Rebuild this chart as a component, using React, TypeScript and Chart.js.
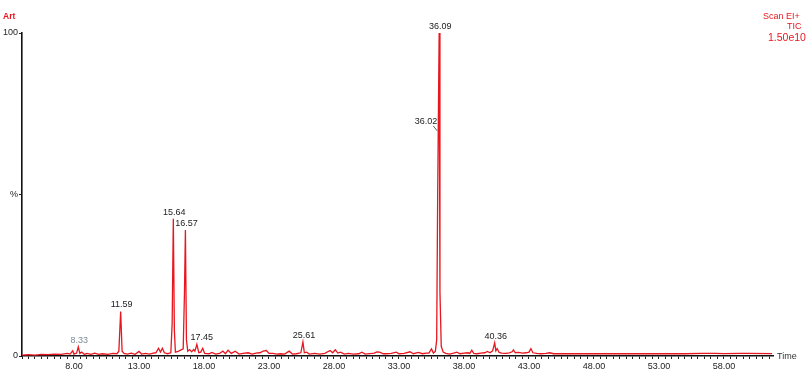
import React, { useEffect, useRef } from "react";
import { Chart, registerables } from "chart.js";

Chart.register(...registerables);

// Retention times (min) and relative intensity (%)
const times: number[] = [
  4.0, 4.5, 5.0, 5.5, 6.0, 6.5, 7.0, 7.5, 7.7, 7.9, 8.0, 8.2, 8.33, 8.45, 8.6, 8.8, 9.0, 9.3, 9.6, 9.9,
  10.2, 10.6, 11.0, 11.3, 11.45, 11.59, 11.7, 11.85, 12.1, 12.4, 12.7, 13.0, 13.2, 13.5, 13.8, 14.1, 14.3,
  14.5, 14.65, 14.8, 14.95, 15.2, 15.45, 15.55, 15.64, 15.72, 15.8, 16.0, 16.2, 16.4, 16.5, 16.57, 16.65,
  16.75, 16.9, 17.05, 17.2, 17.3, 17.45, 17.6, 17.75, 17.9, 18.05, 18.4, 18.6, 18.9, 19.2, 19.45, 19.65,
  19.85, 20.1, 20.4, 20.7, 21.0, 21.4, 21.7, 22.0, 22.3, 22.55, 22.8, 23.0, 23.3, 23.6, 23.9, 24.2, 24.55,
  24.8, 25.1, 25.45, 25.61, 25.72, 25.9, 26.1, 26.5, 26.9, 27.3, 27.7, 27.9, 28.1, 28.3, 28.5, 28.8, 29.1,
  29.5, 29.9, 30.15, 30.4, 30.9, 31.1, 31.3, 31.5, 31.8, 32.0, 32.4, 32.8, 33.0, 33.4, 33.85, 34.1, 34.5,
  34.8, 35.1, 35.3, 35.5, 35.65, 35.8, 35.9, 35.97, 36.02, 36.09, 36.15, 36.25, 36.4, 36.6, 36.9, 37.2,
  37.45, 37.7, 38.0, 38.3, 38.45, 38.6, 38.75, 39.0, 39.3, 39.6, 39.8, 40.0, 40.2, 40.36, 40.45, 40.55,
  40.7, 40.9, 41.2, 41.5, 41.7, 41.8, 41.95, 42.2, 42.5, 42.8, 43.0, 43.15, 43.3, 43.6, 43.9, 44.3, 44.6,
  44.9, 45.5, 47.0, 48.2, 49.0, 52.0, 55.0, 56.3, 57.3, 58.0, 59.3, 59.8, 61.7,
];
const intensity: number[] = [
  0.3, 0.4, 0.3, 0.5, 0.4, 0.6, 0.5, 0.8, 0.6, 1.6, 0.6, 0.9, 2.8, 0.8, 1.2, 0.5, 0.8, 0.5, 0.9, 0.5,
  0.7, 0.5, 0.8, 0.7, 1.5, 13.8, 1.5, 0.8, 0.6, 0.9, 0.5, 1.4, 0.6, 0.8, 0.6, 0.9, 1.0,
  2.4, 1.2, 2.4, 1.0, 0.7, 1.0, 10.0, 42.5, 8.0, 1.2, 1.4, 1.8, 2.2, 20.0, 39.0, 5.0,
  1.5, 2.0, 1.3, 2.0, 1.5, 3.6, 1.0, 1.2, 2.4, 0.8, 0.7, 1.1, 0.6, 0.8, 1.5, 0.7,
  1.8, 0.8, 1.5, 0.6, 0.8, 1.0, 0.6, 0.9, 1.0, 1.5, 1.7, 0.8, 0.8, 0.6, 0.7, 0.6, 1.5,
  0.6, 0.7, 1.0, 4.3, 1.0, 1.2, 0.6, 0.8, 0.6, 0.8, 1.7, 1.0, 1.9, 0.9, 1.2, 0.6, 0.8,
  0.6, 0.7, 1.2, 0.6, 0.8, 0.9, 1.3, 1.2, 0.7, 0.7, 0.8, 1.2, 0.7, 0.8, 1.3, 0.7, 1.1,
  0.7, 0.9, 0.9, 2.2, 0.9, 1.5, 5.0, 47.0, 70.0, 100.0, 20.0, 3.0, 1.2, 0.8, 0.6, 0.9,
  1.2, 0.7, 0.9, 1.0, 0.8, 1.8, 0.8, 0.7, 0.9, 1.0, 1.4, 1.0, 1.6, 4.1, 1.6, 2.3,
  1.1, 0.9, 0.8, 1.0, 1.3, 1.9, 1.0, 1.1, 0.9, 1.0, 1.2, 2.3, 1.0, 0.8, 0.7, 0.8, 1.0,
  0.7, 0.7, 0.7, 0.75, 0.7, 0.7, 0.7, 0.8, 0.8, 0.75, 0.8, 0.8, 0.75,
];

// Peak labels (retention times)
const peakLabels: number[] = [8.33, 11.59, 15.64, 16.57, 17.45, 25.61, 36.09, 40.36];
const shoulderLabels: number[] = [36.02];

// Axis ticks
const xMajorTicks: number[] = [8, 13, 18, 23, 28, 33, 38, 43, 48, 53, 58];
const yTickLabels: Record<number, string> = { 0: "0", 50: "%", 100: "100" };

const RED = "#e8161e";
const FONT = "'Liberation Sans', Arial, sans-serif";

const valueAt = (t: number) => {
  const i = times.indexOf(t);
  return i >= 0 ? intensity[i] : 0;
};

const annotPlugin = {
  id: "annot",
  afterDraw(chart: any) {
    const ctx = chart.ctx as CanvasRenderingContext2D;
    const xs = chart.scales.x;
    const ys = chart.scales.y;
    ctx.save();
    ctx.font = `9px ${FONT}`;
    ctx.textAlign = "center";
    ctx.textBaseline = "bottom";
    peakLabels.forEach((t) => {
      const px = xs.getPixelForValue(t);
      const py = ys.getPixelForValue(valueAt(t));
      ctx.fillStyle = t < 9 ? "#7d8a99" : "#222";
      ctx.fillText(t.toFixed(2), px + (t === 17.45 ? 5 : 1), py - 2);
    });
    shoulderLabels.forEach((t) => {
      const px = xs.getPixelForValue(t);
      const py = ys.getPixelForValue(valueAt(t));
      ctx.strokeStyle = "#333";
      ctx.lineWidth = 0.8;
      ctx.beginPath();
      ctx.moveTo(px - 1, py + 1);
      ctx.lineTo(px - 5, py - 4);
      ctx.stroke();
      ctx.fillStyle = "#222";
      ctx.textAlign = "right";
      ctx.textBaseline = "bottom";
      ctx.fillText(t.toFixed(2), px - 1, py - 4);
    });
    // header texts
    ctx.fillStyle = RED;
    ctx.textAlign = "left";
    ctx.textBaseline = "middle";
    ctx.font = `bold 8.5px ${FONT}`;
    ctx.fillText("Art", 3, 17);
    ctx.font = `9px ${FONT}`;
    ctx.fillText("Scan EI+", 763, 17);
    ctx.fillText("TIC", 787, 27);
    ctx.font = `10.5px ${FONT}`;
    ctx.fillText("1.50e10", 768, 38);
    // axis title
    ctx.fillStyle = "#333";
    ctx.font = `9px ${FONT}`;
    ctx.fillText("Time", 777, 357);
    ctx.restore();
  },
};

export default function App() {
  const ref = useRef<HTMLCanvasElement>(null);
  useEffect(() => {
    if (!ref.current) return;
    const chart = new Chart(ref.current, {
      type: "line",
      data: {
        datasets: [
          {
            data: times.map((t, i) => ({ x: t, y: intensity[i] })),
            borderColor: RED,
            borderWidth: 1.3,
            pointRadius: 0,
            tension: 0,
            fill: false,
          },
        ],
      },
      options: {
        responsive: false,
        animation: false,
        layout: { padding: { top: 33, right: 36, left: 0, bottom: 0 } },
        plugins: { legend: { display: false }, tooltip: { enabled: false } },
        scales: {
          x: {
            type: "linear",
            min: 4,
            max: 61.77,
            afterFit: (s: any) => {
              s.height = 30;
            },
            ticks: {
              stepSize: 0.5,
              autoSkip: false,
              maxRotation: 0,
              includeBounds: false,
              padding: 2,
              color: "#222",
              font: { family: FONT, size: 9 },
              callback: (v: any) => (xMajorTicks.includes(Number(v)) ? Number(v).toFixed(2) : ""),
            },
            grid: { drawOnChartArea: false, tickLength: 3, color: "#222", lineWidth: 1 },
            border: { color: "#111", width: 1.6 },
          },
          y: {
            min: 0,
            max: 100,
            afterFit: (s: any) => {
              s.width = 22;
            },
            ticks: {
              stepSize: 50,
              padding: 1,
              color: "#222",
              font: { family: FONT, size: 9 },
              callback: (v: any) => yTickLabels[Number(v)] ?? "",
            },
            grid: { drawOnChartArea: false, tickLength: 3, color: "#222", lineWidth: 1 },
            border: { color: "#111", width: 1.6 },
          },
        },
      },
      plugins: [annotPlugin],
    });
    return () => chart.destroy();
  }, []);
  return (
    <div style={{ position: "fixed", left: 0, top: 0, width: 809, height: 386, background: "#fff" }}>
      <canvas ref={ref} width={809} height={386} />
    </div>
  );
}
